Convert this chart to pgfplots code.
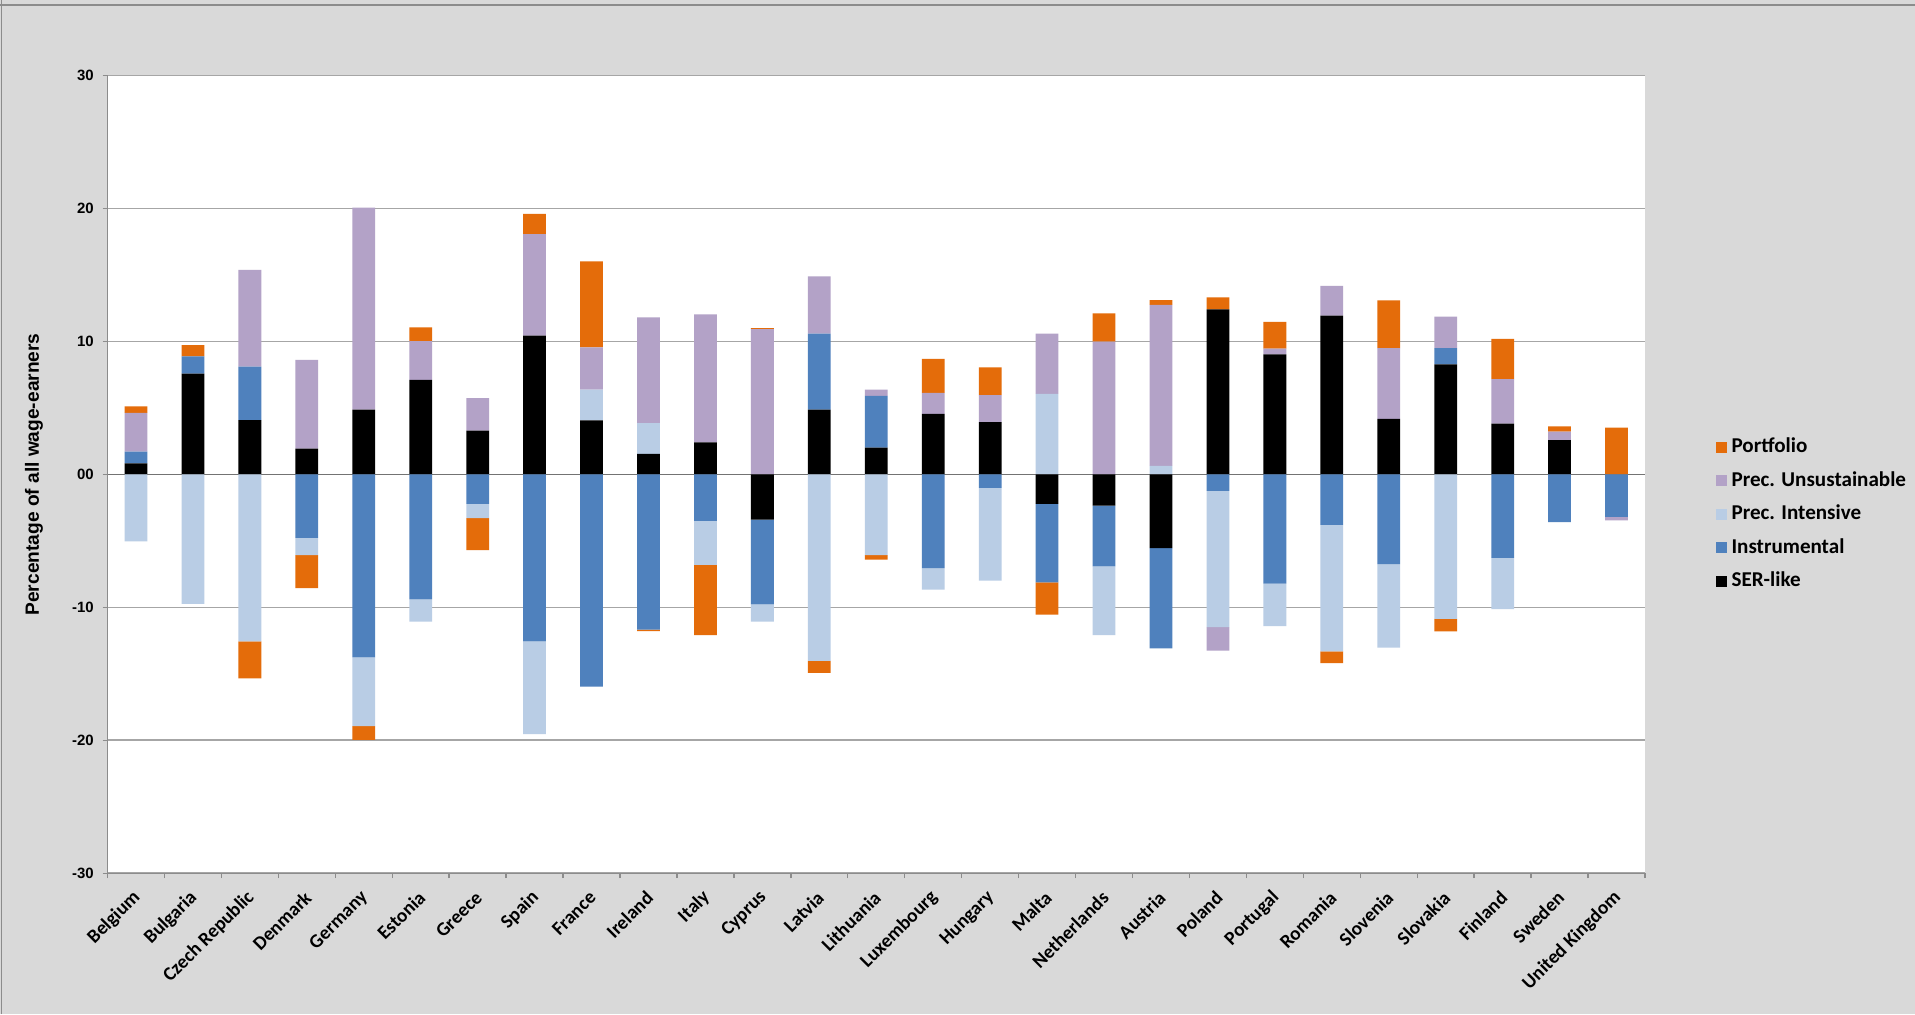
\documentclass[border=0pt]{standalone}
\usepackage{pgfplots}
\pgfplotsset{compat=1.18}
\usepackage{pgfplotstable}
\usepackage{fontspec}
\setmainfont{Carlito}
\newfontfamily\arialfont{Liberation Sans}

\definecolor{bg}{HTML}{D9D9D9}
\definecolor{gridc}{HTML}{A6A6A6}
\definecolor{axc}{HTML}{8C8C8C}
\definecolor{cport}{HTML}{E46C0A}
\definecolor{cpu}{HTML}{B3A2C7}
\definecolor{cpi}{HTML}{B9CDE5}
\definecolor{cins}{HTML}{4F81BD}
\definecolor{cser}{HTML}{000000}

% positive parts of each bar (segment sizes)
\pgfplotstableread{
idx ser   ins  pi   pu    port
0   0.84  0.87 0    2.92  0.50
1   7.58  1.31 0    0     0.84
2   4.09  4.03 0    7.28  0
3   1.95  0    0    6.67  0
4   4.87  0    0    15.20 0
5   7.11  0    0    2.92  1.04
6   3.29  0    0    2.45  0
7   10.44 0    0    7.65  1.51
8   4.06  0    2.32 3.18  6.48
9   1.54  0    2.32 7.95  0
10  2.42  0    0    9.63  0
11  0     0    0    10.94 0.07
12  4.87  5.73 0    4.30  0
13  2.01  3.90 0    0.47  0
14  4.56  0    0    1.58  2.55
15  3.93  0    0    2.04  2.08
16  0     0    6.07 4.53  0
17  0     0    0    10.00 2.11
18  0     0    0.64 12.11 0.37
19  12.42 0    0    0     0.90
20  9.03  0    0    0.43  2.02
21  11.95 0    0    2.24  0
22  4.19  0    0    5.31  3.59
23  8.29  1.21 0    2.38  0
24  3.83  0    0    3.35  3.02
25  2.58  0    0    0.64  0.40
26  0     0    0    0     3.52
}\pos

% negative parts of each bar
\pgfplotstableread{
idx ser   ins    pi     pu    port
0   0     0      -5.03  0     0
1   0     0      -9.73  0     0
2   0     0      -12.55 0     -2.79
3   0     -4.77  -1.30  0     -2.49
4   0     -13.76 -5.17  0     -1.04
5   0     -9.40  -1.67  0     0
6   0     -2.21  -1.08  0     -2.41
7   0     -12.55 -6.98  0     0
8   0     -15.97 0      0     0
9   0     -11.68 0      0     -0.10
10  0     -3.49  -3.32  0     -5.27
11  -3.39 -6.38  -1.30  0     0
12  0     0      -14.03 0     -0.90
13  0     0      -6.07  0     -0.34
14  0     -7.05  -1.61  0     0
15  0     -1.01  -6.98  0     0
16  -2.21 -5.91  0      0     -2.42
17  -2.35 -4.56  -5.17  0     0
18  -5.54 -7.55  0      0     0
19  0     -1.24  -10.24 -1.78 0
20  0     -8.22  -3.19  0     0
21  0     -3.79  -9.53  0     -0.87
22  0     -6.74  -6.28  0     0
23  0     0      -10.87 0     -0.94
24  0     -6.28  -3.85  0     0
25  0     -3.59  0      0     0
26  0     -3.19  0      -0.27 0
}\neg

\pgfplotsset{
  base/.style={
    at={(2.15cm,2.816cm)}, anchor=south west,
    scale only axis, width=30.75cm, height=15.95cm,
    xmin=-0.5, xmax=26.5, ymin=-30, ymax=30,
    ybar stacked, bar width=0.4,
  },
}

\begin{document}
\begin{tikzpicture}
\useasboundingbox (0,0) rectangle (38.3cm,20.28cm);
\fill[bg] (0,0) rectangle (38.3cm,20.28cm);
\draw[axc, line width=0.8pt] (0,20.18cm) -- (38.3cm,20.18cm);
\draw[axc, line width=0.8pt] (0.03cm,0) -- (0.03cm,20.28cm);

\begin{axis}[base,
    axis background/.style={fill=white},
    axis lines*=left,
    axis line style={axc, line width=0.8pt},
    tick align=outside,
    major tick length=1mm,
    minor tick length=1mm,
    ytick={-30,-20,...,30},
    yticklabels={-30,-20,-10,00,10,20,30},
    ymajorgrids,
    grid style={gridc, line width=0.9pt},
    ytick style={axc, line width=0.8pt},
    yticklabel style={font=\arialfont\bfseries\fontsize{8.5}{10}\selectfont, inner sep=0pt, xshift=-1.7mm},
    xtick={0,...,26},
    xticklabels={Belgium,Bulgaria,Czech Republic,Denmark,Germany,Estonia,Greece,Spain,France,Ireland,Italy,Cyprus,Latvia,Lithuania,Luxembourg,Hungary,Malta,Netherlands,Austria,Poland,Portugal,Romania,Slovenia,Slovakia,Finland,Sweden,United Kingdom},
    major x tick style={draw=none},
    minor xtick={-0.5,0.5,...,26.5},
    minor x tick style={axc, line width=0.8pt},
    xticklabel style={rotate=45, anchor=east, inner sep=0pt, xshift=-2.1mm, yshift=-2.5mm,
      font=\bfseries\fontsize{11}{12}\selectfont},
    extra y ticks={0},
    extra y tick labels={},
    extra y tick style={major tick length=0pt, grid style={black!55, line width=0.5pt}},
    ylabel={Percentage of all wage-earners},
    every axis y label/.style={at={(axis description cs:-0.0478,0.5)}, rotate=90, anchor=center,
      font=\arialfont\bfseries\fontsize{10.9}{12}\selectfont},
    reverse legend,
    legend image code/.code={\fill[#1] (0cm,-1.1mm) rectangle (2.2mm,1.1mm);},
    legend style={at={(1.046,0.450)}, anchor=west, draw=none, fill=none,
      inner sep=0pt, row sep=2.85mm,
      font=\bfseries\fontsize{12}{14}\selectfont,
      nodes={inner ysep=0pt, inner xsep=0.9mm, text height=8.5pt, text depth=2.5pt}},
    legend cell align=left,
]
\addplot[fill=cser, draw=none] table[x=idx, y=ser]{\pos};
\addlegendentry{SER-like}
\addplot[fill=cins, draw=none] table[x=idx, y=ins]{\pos};
\addlegendentry{Instrumental}
\addplot[fill=cpi, draw=none] table[x=idx, y=pi]{\pos};
\addlegendentry{Prec. Intensive}
\addplot[fill=cpu, draw=none] table[x=idx, y=pu]{\pos};
\addlegendentry{Prec. Unsustainable}
\addplot[fill=cport, draw=none] table[x=idx, y=port]{\pos};
\addlegendentry{Portfolio}
\end{axis}

\begin{axis}[base, hide axis]
\addplot[fill=cser, draw=none] table[x=idx, y=ser]{\neg};
\addplot[fill=cins, draw=none] table[x=idx, y=ins]{\neg};
\addplot[fill=cpi, draw=none] table[x=idx, y=pi]{\neg};
\addplot[fill=cpu, draw=none] table[x=idx, y=pu]{\neg};
\addplot[fill=cport, draw=none] table[x=idx, y=port]{\neg};
\end{axis}
\end{tikzpicture}
\end{document}
